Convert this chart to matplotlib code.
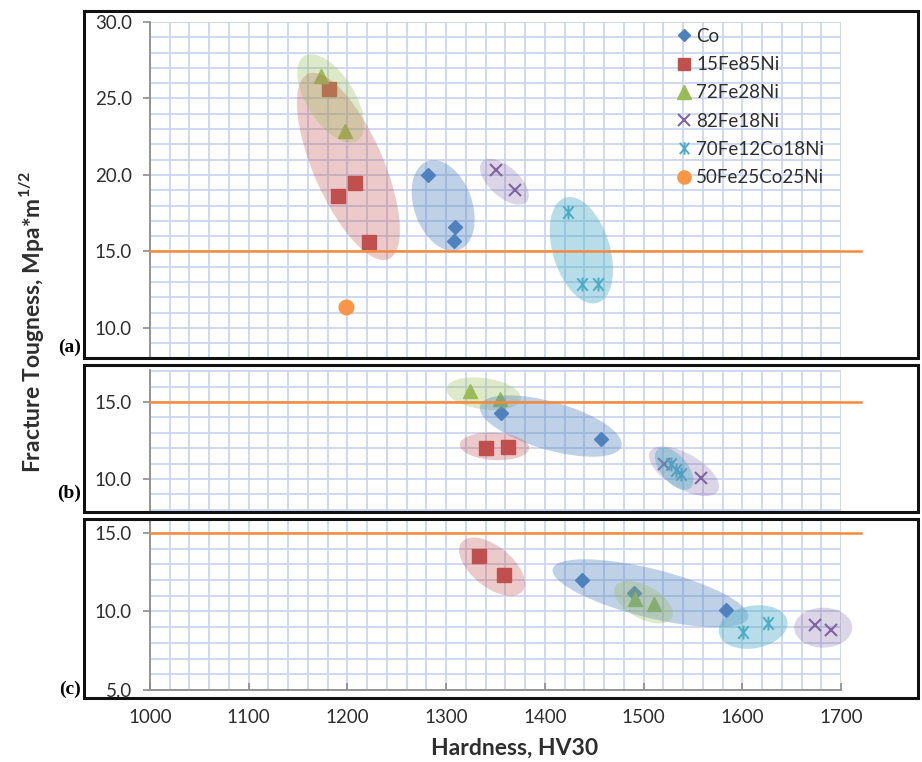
import matplotlib
matplotlib.use('Agg')
import matplotlib.pyplot as plt
import matplotlib.transforms as mtransforms
from matplotlib.patches import Ellipse, Rectangle
from matplotlib.path import Path
from matplotlib.lines import Line2D
from matplotlib.ticker import MultipleLocator, FormatStrFormatter

plt.rcParams['font.family'] = ['Lato', 'DejaVu Sans']
plt.rcParams['mathtext.fontset'] = 'custom'
plt.rcParams['mathtext.rm'] = 'Lato'
plt.rcParams['mathtext.bf'] = 'Lato:bold'

W, H, DPI = 922, 762, 100

# ---------------- data ----------------
series = ['Co', '15Fe85Ni', '72Fe28Ni', '82Fe18Ni', '70Fe12Co18Ni', '50Fe25Co25Ni']
colors = ['#4F81BD', '#C0504D', '#9BBB59', '#8064A2', '#4BACC6', '#F79646']

# panel (a)
a_co_hv = [1282, 1309, 1308];          a_co_k = [20.0, 16.6, 15.7]
a_fn_hv = [1181, 1190, 1208, 1222];    a_fn_k = [25.6, 18.6, 19.5, 15.6]
a_72_hv = [1173, 1198];                a_72_k = [26.5, 22.9]
a_82_hv = [1350, 1370];                a_82_k = [20.3, 19.0]
a_70_hv = [1423, 1438, 1454];          a_70_k = [17.6, 12.9, 12.9]
a_50_hv = [1199];                      a_50_k = [11.4]

# panel (b)
b_co_hv = [1356, 1457];                b_co_k = [14.3, 12.6]
b_fn_hv = [1340, 1363];                b_fn_k = [12.0, 12.05]
b_72_hv = [1324, 1355];                b_72_k = [15.7, 15.2]
b_82_hv = [1521, 1558];                b_82_k = [11.0, 10.05]
b_70_hv = [1528, 1533, 1538];          b_70_k = [10.95, 10.6, 10.3]

# panel (c)
c_co_hv = [1438, 1490, 1584];          c_co_k = [12.0, 11.2, 10.1]
c_fn_hv = [1333, 1359];                c_fn_k = [13.5, 12.35]
c_72_hv = [1491, 1511];                c_72_k = [10.8, 10.45]
c_82_hv = [1674, 1690];                c_82_k = [9.15, 8.8]
c_70_hv = [1601, 1626];                c_70_k = [8.7, 9.25]

threshold = 15.0
threshold_hv = [1000, 1720]
x_ticks = [1000, 1100, 1200, 1300, 1400, 1500, 1600, 1700]

# group ellipses: (series index, centre HV, centre K, semi-major px, semi-minor px, angle)
groups_a = [(1, 1201, 20.56, 101, 35, -66.5), (2, 1183, 25.0, 50, 24, -58),
            (0, 1297, 18.0, 47, 29, -70.5), (3, 1359, 19.56, 30, 15, -42),
            (4, 1437, 15.08, 55, 28.5, -73)]
groups_b = [(2, 1338, 15.54, 37.6, 15.6, -8), (0, 1406, 13.44, 73.5, 24, -16),
            (1, 1349, 12.12, 34.7, 13.7, -3), (3, 1541, 10.5, 39.2, 17.6, -30),
            (4, 1531, 10.67, 25.4, 13.3, -50)]
groups_c = [(1, 1346.5, 12.85, 39, 20.3, -39), (0, 1507, 11.16, 100.7, 24.4, -14),
            (2, 1500, 10.59, 32.4, 16.4, -29), (4, 1611, 9.01, 34.7, 21.3, 10),
            (3, 1682, 8.97, 29, 20, 0)]
group_alpha = [0.36, 0.3, 0.32, 0.27, 0.4, 0.3]

# ---------------- styles ----------------
star = Path([(0, -1), (0, 1), (-0.75, -0.9), (0.75, 0.9), (-0.75, 0.9), (0.75, -0.9)],
            [Path.MOVETO, Path.LINETO] * 3)
mstyle = [dict(marker='D', ms=6.8), dict(marker='s', ms=10), dict(marker='^', ms=10.5),
          dict(marker='x', ms=9, mew=1.5), dict(marker=star, ms=10, mew=1.4),
          dict(marker='o', ms=10.5)]

GRID = '#CBD5EE'
TXT = '#2E2E2E'
AX = '#8C8C8C'
TICK_FS = 13.5
TITLE_FS = 16.5

fig = plt.figure(figsize=(W / DPI, H / DPI), dpi=DPI)


def px_axes(left, top, right, bottom):
    return fig.add_axes([left / W, 1 - bottom / H, (right - left) / W, (bottom - top) / H])


def setup(ax, ylim, yt, show_x):
    ax.set_xlim(1000, 1700)
    ax.set_ylim(*ylim)
    ax.set_facecolor('none')
    ax.xaxis.set_minor_locator(MultipleLocator(20))
    ax.yaxis.set_minor_locator(MultipleLocator(1))
    ax.set_xticks(x_ticks)
    ax.set_yticks(yt)
    ax.yaxis.set_major_formatter(FormatStrFormatter('%.1f'))
    ax.grid(True, which='both', color=GRID, lw=1.3, zorder=0)
    ax.set_axisbelow(True)
    for s in ['top', 'right']:
        ax.spines[s].set_visible(False)
    ax.spines['left'].set_color(AX)
    ax.spines['left'].set_linewidth(1.3)
    ax.spines['bottom'].set_color(AX)
    ax.spines['bottom'].set_linewidth(1.3)
    ax.spines['bottom'].set_visible(show_x)
    ax.tick_params(axis='y', which='major', direction='out', length=5, width=1.2,
                   color=AX, labelsize=TICK_FS, labelcolor=TXT, pad=8)
    ax.tick_params(axis='both', which='minor', length=0)
    if show_x:
        ax.tick_params(axis='x', which='major', direction='in', length=5, width=1.2,
                       color=AX, labelsize=TICK_FS, labelcolor=TXT, pad=14)
    else:
        ax.tick_params(axis='x', which='major', length=0, labelbottom=False)
    ax.plot(threshold_hv, [threshold, threshold], color='#F58A3C', lw=1.8,
            zorder=5, clip_on=False)


def scatter(ax, data):
    for i, hv, k in data:
        st = mstyle[i]
        ax.plot(hv, k, ls='none', color=colors[i], mec=colors[i], zorder=3,
                clip_on=False, **st)


def ellipses(ax, groups):
    for i, cx, cy, a, b, ang in groups:
        tr = fig.dpi_scale_trans + mtransforms.ScaledTranslation(cx, cy, ax.transData)
        e = Ellipse((0, 0), 2 * a / DPI, 2 * b / DPI, angle=ang, transform=tr,
                    facecolor=colors[i], alpha=group_alpha[i], edgecolor='none',
                    zorder=4, clip_on=False)
        ax.add_artist(e)


ax_a = px_axes(150, 22, 841, 357)
ax_b = px_axes(150, 370, 841, 511)
ax_c = px_axes(150, 521, 841, 690)

setup(ax_a, (8.1, 30.0), [10, 15, 20, 25, 30], False)
setup(ax_b, (7.92, 17.08), [10, 15], False)
setup(ax_c, (5.0, 15.76), [5, 10, 15], True)

scatter(ax_a, [(0, a_co_hv, a_co_k), (1, a_fn_hv, a_fn_k), (2, a_72_hv, a_72_k),
               (3, a_82_hv, a_82_k), (4, a_70_hv, a_70_k), (5, a_50_hv, a_50_k)])
scatter(ax_b, [(0, b_co_hv, b_co_k), (1, b_fn_hv, b_fn_k), (2, b_72_hv, b_72_k),
               (3, b_82_hv, b_82_k), (4, b_70_hv, b_70_k)])
scatter(ax_c, [(0, c_co_hv, c_co_k), (1, c_fn_hv, c_fn_k), (2, c_72_hv, c_72_k),
               (3, c_82_hv, c_82_k), (4, c_70_hv, c_70_k)])

ellipses(ax_a, groups_a)
ellipses(ax_b, groups_b)
ellipses(ax_c, groups_c)

# legend
handles = [Line2D([], [], ls='none', color=colors[i], mec=colors[i], **mstyle[i])
           for i in range(len(series))]
for h in handles:
    h.set_markersize(h.get_markersize() * 0.9)
leg = ax_a.legend(handles, series, loc='upper left', bbox_to_anchor=(676 / W, 1 - 28 / H),
                  bbox_transform=fig.transFigure, frameon=False, fontsize=13.5,
                  handlelength=0.85, handletextpad=0.22, labelspacing=0.6, borderpad=0,
                  borderaxespad=0)
for t in leg.get_texts():
    t.set_color(TXT)

# panel frames
for top, bot in [(11, 358), (365, 512), (519, 698)]:
    fig.patches.append(Rectangle((84 / W, 1 - bot / H), (918 - 84) / W, (bot - top) / H,
                                 transform=fig.transFigure, fill=False, lw=2.2,
                                 edgecolor='#111111', zorder=10))

for lab, cy in [('(a)', 345), ('(b)', 491), ('(c)', 687)]:
    fig.text(81 / W, 1 - cy / H, lab, ha='right', va='center_baseline',
             family='Liberation Serif', weight='bold', fontsize=14, color='black')

fig.text(32 / W, 1 - 322 / H, r'Fracture Tougness, Mpa*m$^{\mathbf{1/2}}$', rotation=90,
         ha='center', va='center', fontsize=TITLE_FS, weight='bold', color=TXT)
fig.text(515 / W, 1 - 748 / H, 'Hardness, HV30', ha='center', va='center',
         fontsize=TITLE_FS, weight='bold', color=TXT)

fig.savefig('out.png', dpi=DPI)
